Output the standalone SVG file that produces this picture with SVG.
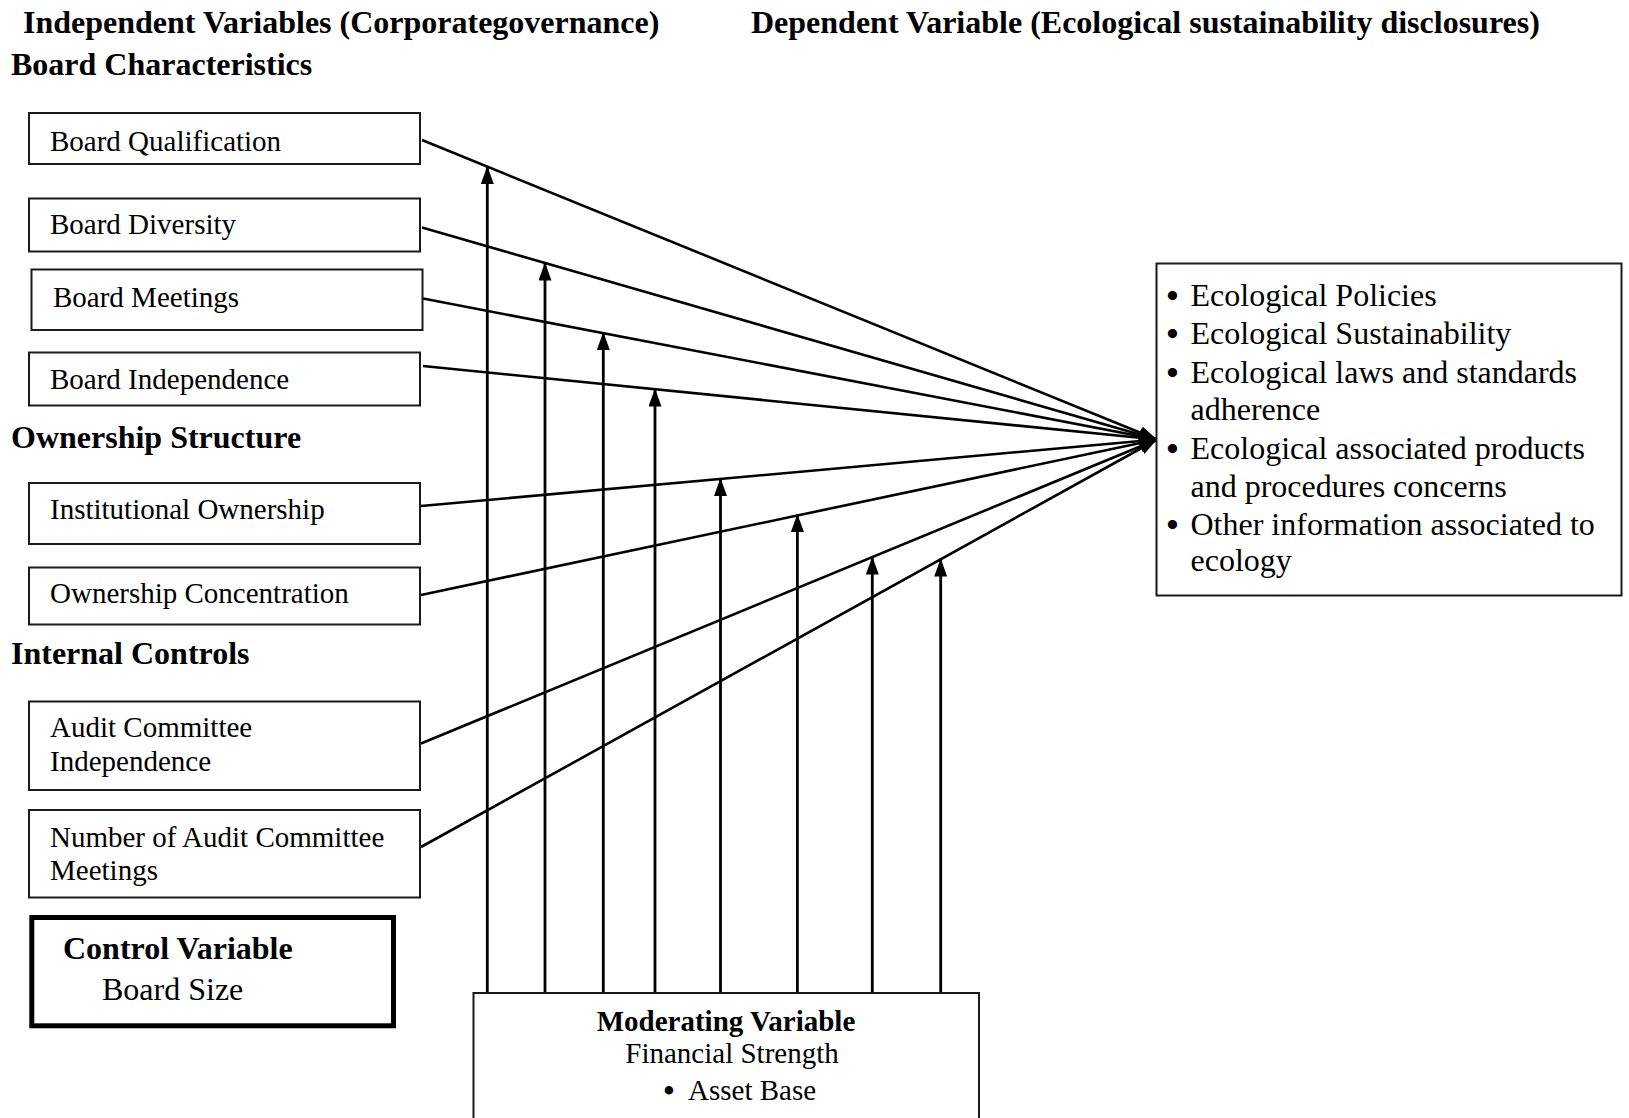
<svg xmlns="http://www.w3.org/2000/svg" width="1629" height="1118" viewBox="0 0 1629 1118">
<style>
  .bg { fill: #ffffff; }
  .box { fill: #ffffff; stroke: #1a1a1a; stroke-width: 2; }
  .thick { fill: #ffffff; stroke: #000000; stroke-width: 5; }
  .hd { font-family: "Liberation Serif", "Times New Roman", serif; font-weight: bold; font-size: 32px; fill: #000; }
  .lbl { font-family: "Liberation Serif", "Times New Roman", serif; font-size: 29px; fill: #000; }
  .rt { font-family: "Liberation Serif", "Times New Roman", serif; font-size: 32px; fill: #000; }
  .mb { font-family: "Liberation Serif", "Times New Roman", serif; font-weight: bold; font-size: 29px; fill: #000; }
  .bul { font-family: "Liberation Serif", "Times New Roman", serif; font-weight: bold; font-size: 34px; fill: #000; }
  .bul2 { font-family: "Liberation Serif", "Times New Roman", serif; font-weight: bold; font-size: 31px; fill: #000; }
  .conn { stroke: #000; stroke-width: 2.6; fill: none; }
  .vconn { stroke: #000; stroke-width: 2.8; fill: none; }
</style>
<defs>
  <marker id="ah" viewBox="0 0 18 13" refX="18" refY="6.5" markerWidth="18" markerHeight="13" orient="auto" markerUnits="userSpaceOnUse">
    <path d="M0,0 L18,6.5 L0,13 z" fill="#000"/>
  </marker>
</defs>
<rect class="bg" x="0" y="0" width="1629" height="1118"/>

<g id="headings">
  <text class="hd" x="23" y="33">Independent Variables (Corporategovernance)</text>
  <text class="hd" x="751" y="33">Dependent Variable (Ecological sustainability disclosures)</text>
  <text class="hd" x="11" y="75">Board Characteristics</text>
  <text class="hd" x="11" y="448">Ownership Structure</text>
  <text class="hd" x="11" y="664">Internal Controls</text>
</g>

<g id="connectors">
  <line class="conn" x1="422" y1="140" x2="1157" y2="439.5" marker-end="url(#ah)"/>
  <line class="conn" x1="422" y1="227.5" x2="1157" y2="439.5" marker-end="url(#ah)"/>
  <line class="conn" x1="423" y1="298.5" x2="1157" y2="439.5" marker-end="url(#ah)"/>
  <line class="conn" x1="423" y1="366" x2="1157" y2="439.5" marker-end="url(#ah)"/>
  <line class="conn" x1="421" y1="506" x2="1157" y2="439.5" marker-end="url(#ah)"/>
  <line class="conn" x1="421" y1="595" x2="1157" y2="439.5" marker-end="url(#ah)"/>
  <line class="conn" x1="421" y1="743.5" x2="1157" y2="439.5" marker-end="url(#ah)"/>
  <line class="conn" x1="421" y1="847" x2="1157" y2="439.5" marker-end="url(#ah)"/>
  <line class="vconn" x1="487.3" y1="993" x2="487.3" y2="166" marker-end="url(#ah)"/>
  <line class="vconn" x1="545" y1="993" x2="545" y2="262.5" marker-end="url(#ah)"/>
  <line class="vconn" x1="603.3" y1="993" x2="603.3" y2="332" marker-end="url(#ah)"/>
  <line class="vconn" x1="655" y1="993" x2="655" y2="388.5" marker-end="url(#ah)"/>
  <line class="vconn" x1="720.5" y1="993" x2="720.5" y2="478" marker-end="url(#ah)"/>
  <line class="vconn" x1="797.4" y1="993" x2="797.4" y2="514" marker-end="url(#ah)"/>
  <line class="vconn" x1="872.3" y1="993" x2="872.3" y2="556.5" marker-end="url(#ah)"/>
  <line class="vconn" x1="940.7" y1="993" x2="940.7" y2="558.5" marker-end="url(#ah)"/>
</g>

<g id="board-qualification">
  <rect class="box" x="29" y="113" width="391" height="51"/>
  <text class="lbl" x="50" y="150.5">Board Qualification</text>
</g>
<g id="board-diversity">
  <rect class="box" x="29" y="198.5" width="391" height="53"/>
  <text class="lbl" x="50" y="234">Board Diversity</text>
</g>
<g id="board-meetings">
  <rect class="box" x="31.5" y="269.5" width="391" height="60.5"/>
  <text class="lbl" x="53" y="306.5">Board Meetings</text>
</g>
<g id="board-independence">
  <rect class="box" x="29" y="352.5" width="391" height="53"/>
  <text class="lbl" x="50" y="389">Board Independence</text>
</g>
<g id="institutional-ownership">
  <rect class="box" x="29" y="483" width="391" height="61"/>
  <text class="lbl" x="50" y="519">Institutional Ownership</text>
</g>
<g id="ownership-concentration">
  <rect class="box" x="29" y="567.5" width="391" height="57"/>
  <text class="lbl" x="50" y="603">Ownership Concentration</text>
</g>
<g id="audit-committee-independence">
  <rect class="box" x="29" y="701.5" width="391" height="88.5"/>
  <text class="lbl" x="50" y="737">Audit Committee</text>
  <text class="lbl" x="50" y="771">Independence</text>
</g>
<g id="audit-committee-meetings">
  <rect class="box" x="29" y="810" width="391" height="87.5"/>
  <text class="lbl" x="50" y="846.5">Number of Audit Committee</text>
  <text class="lbl" x="50" y="880">Meetings</text>
</g>
<g id="control-variable">
  <rect class="thick" x="31.8" y="917.5" width="361.7" height="108.3"/>
  <text class="hd" x="63" y="959">Control Variable</text>
  <text class="rt" x="102" y="1000">Board Size</text>
</g>
<g id="moderating-variable">
  <rect class="box" x="473.5" y="993" width="505.5" height="140"/>
  <text class="mb" x="726" y="1030.5" text-anchor="middle">Moderating Variable</text>
  <text class="lbl" x="732" y="1063" text-anchor="middle">Financial Strength</text>
  <text class="bul2" x="663.5" y="1101">•</text>
  <text class="lbl" x="688" y="1100">Asset Base</text>
</g>
<g id="dependent-variable">
  <rect class="box" x="1156.5" y="263.5" width="465" height="332"/>
  <text class="bul" x="1166.5" y="307">•</text>
  <text class="rt" x="1190.5" y="306">Ecological Policies</text>
  <text class="bul" x="1166.5" y="345">•</text>
  <text class="rt" x="1190.5" y="344">Ecological Sustainability</text>
  <text class="bul" x="1166.5" y="383.5">•</text>
  <text class="rt" x="1190.5" y="382.5">Ecological laws and standards</text>
  <text class="rt" x="1190.5" y="419.5">adherence</text>
  <text class="bul" x="1166.5" y="460">•</text>
  <text class="rt" x="1190.5" y="459">Ecological associated products</text>
  <text class="rt" x="1190.5" y="496.5">and procedures concerns</text>
  <text class="bul" x="1166.5" y="536">•</text>
  <text class="rt" x="1190.5" y="535">Other information associated to</text>
  <text class="rt" x="1190.5" y="571">ecology</text>
</g>
</svg>
